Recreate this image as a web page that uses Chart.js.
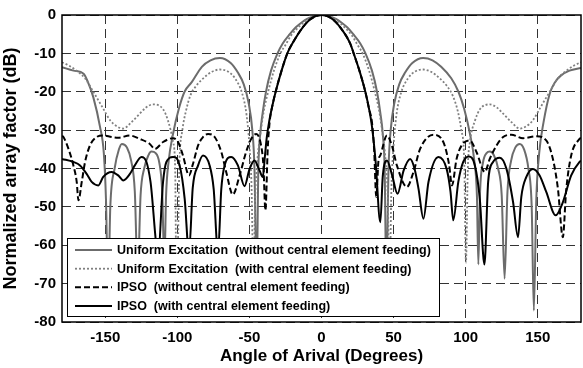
<!DOCTYPE html>
<html><head><meta charset="utf-8">
<style>html,body{margin:0;padding:0;background:#fff;}#wrap{width:583px;height:368px;}</style>
<script src="https://cdn.jsdelivr.net/npm/chart.js@4/dist/chart.umd.min.js"></script>
</head><body><div id="wrap"><canvas id="c" width="583" height="368"></canvas></div>
<script>
const seriesNames = [
  'Uniform Excitation  (without central element feeding)',
  'Uniform Excitation  (with central element feeding)',
  'IPSO  (without central element feeding)',
  'IPSO  (with central element feeding)'
];
const xTicks = [-150, -100, -50, 0, 50, 100, 150];
const yTicks = [-80, -70, -60, -50, -40, -30, -20, -10, 0];

// Uniform excitation, without central element feeding
const uniAngles = [-180,-172,-165,-162,-158.3,-153.6,-151,-149.5,-148,-146.5,-143.5,-140.5,-138.5,-135,-132,-129.5,-127.5,-125.5,-123,-120,-118,-115,-112.5,-110.5,-109,-107.8,-106,-103,-99,-95,-90,-83,-77,-70.5,-63,-58,-54,-50.5,-48,-46.5,-45,-43.8,-42.5,-41,-38.5,-35,-30.5,-27,-22,-17.8,-14,-10,-5,0,5,10,14,17.8,22,27,30.5,35,38.5,41,42.5,43.8,45,46.5,48,50.5,54,58,63,70.5,77,83,90,95,99,103,106,107.8,108.8,110,112,114.5,116.8,119.5,122.5,125,127,129,131.5,134.5,137.5,140.5,143.5,145.8,147.3,149,151,154,158.3,162,166,172,180];
const uniDb = [-13.6,-14.5,-15.3,-17.5,-21.4,-29.2,-36,-48,-72,-50,-40,-35,-33.6,-34.5,-38,-46,-68,-47,-40,-36.5,-35.6,-36,-38.5,-46,-65,-47,-38,-31,-24.5,-20,-17.5,-13.5,-11.8,-11.2,-12.5,-15,-18,-23,-30,-40,-70,-40,-31,-26,-20,-14.5,-10,-7.5,-5,-3.2,-2,-1,-0.3,0,-0.3,-1,-2,-3.2,-5,-7.5,-10,-14.5,-20,-26,-31,-40,-70,-40,-30,-23,-18,-15,-12.5,-11.2,-11.8,-13.5,-16.5,-20,-24.5,-31,-38,-47,-65,-46,-38.5,-36,-35.6,-36.5,-40,-47,-68.7,-46,-38,-34.5,-33.6,-35,-40,-50,-77,-48,-36,-28,-20.5,-17.5,-15.8,-14.5,-13.8];

// Uniform excitation, with central element feeding
const uniCenAngles = [-180,-175,-170,-164,-158.3,-152,-146.5,-142,-137.5,-132,-126,-122,-117,-110,-106.5,-103,-101.5,-100.8,-100,-98.5,-96.5,-94,-91,-87,-82,-76,-70.5,-65,-60,-55,-52,-50,-48.5,-47.2,-46,-44.5,-42,-40,-37,-33,-28.5,-25,-21,-16,-10,-5,0,5,10,16,21,25,28.5,33,37,40,42,44.5,46,47.2,48.5,50,52,55,60,65,70.5,76,82,87,91,94.5,97,99,100.2,101.5,103,106.5,110,116.8,122,126,132,137.5,142,146.5,152,158.3,164,170,175,180];
const uniCenDb = [-12.3,-13.2,-14.5,-16.5,-20,-24,-27.5,-29,-29.6,-28,-25.7,-24.2,-23.3,-24.5,-27.5,-33,-40,-64,-64.5,-38,-30,-25,-21,-18.5,-16.5,-14.8,-14.2,-14.7,-16.5,-20.5,-26,-34,-45,-70,-48,-38,-30,-25,-20,-14.5,-10,-7.8,-5.3,-3.2,-1.2,-0.3,0,-0.3,-1.2,-3.2,-5.3,-7.8,-10,-14.5,-20,-25,-30,-38,-48,-70,-45,-34,-26,-20.5,-16.5,-14.7,-14.2,-14.8,-16.5,-18.5,-21,-25,-30,-38,-64.5,-40,-33,-27.5,-24.5,-23.3,-24.2,-25.7,-28,-29.6,-29,-27.5,-24,-20,-16.5,-14.5,-13.2,-12.3];

// IPSO, without central element feeding
const ipsoAngles = [-180,-179,-175.5,-172.1,-169.8,-168.6,-166.3,-164,-160.6,-156,-151.4,-145.6,-141,-133,-126,-119.1,-115.6,-109.9,-103,-99.5,-96.1,-91.9,-89.3,-85.6,-82.2,-78.7,-74.1,-69.5,-66.1,-61.5,-56.8,-52.3,-48.8,-45.3,-41.9,-40.3,-38.9,-37.3,-36,-34,-31.8,-27.7,-23.7,-20,-13,-8,-4,0,4,8,13,20,22.3,26.3,30.4,33,35,36.5,38,39.5,40.8,45.4,48.8,52.3,59.2,63.8,68.4,77.6,84.5,88.5,90.5,93.7,97.2,102.9,107.5,113.3,116.7,121.4,126,131.7,139.8,149,155.9,160.5,164,167.4,169.7,173.2,179,180];
const ipsoDb = [-31.5,-31.8,-34.9,-39.2,-43.5,-48.3,-43.5,-38.3,-34,-31.8,-31.4,-31.8,-32,-31.4,-32.3,-33.6,-34.9,-33.1,-32.1,-33.1,-36.6,-41.8,-39,-34,-31.8,-31,-31.8,-35.7,-40.9,-46.8,-41.8,-35.7,-32.3,-31,-34,-39.2,-50.9,-34.9,-28,-23.5,-20,-14.5,-10,-7.3,-3.2,-1.2,-0.3,0,-0.3,-1.2,-3.2,-7.5,-10,-14.5,-20,-24.5,-28,-35,-47.4,-38,-36.6,-31.4,-34,-39.2,-44.8,-40.9,-34.9,-31.2,-33.1,-39,-44.4,-37.5,-34,-32.7,-35.7,-40.9,-37.5,-34,-31.8,-31.2,-32.1,-31.6,-32.7,-37.5,-45.3,-57.9,-45.8,-36.6,-32.3,-32];

// IPSO, with central element feeding
const ipsoCenAngles = [-180,-172.1,-167.5,-162.9,-159.4,-154.8,-151.4,-145.6,-141,-137.5,-132.9,-129.5,-124.9,-121.4,-118.6,-113.3,-109.9,-107.6,-103,-98.4,-94.9,-91.9,-89.3,-85.6,-82.2,-77.6,-74.8,-71.8,-69.5,-67.2,-62.6,-58,-53.4,-49.9,-46.5,-43,-40.7,-39.3,-38,-36.4,-34,-31.8,-27.7,-23.7,-20,-13,-8,-4,0,4,8,13,20,22.3,26.3,30.4,33,35,37.5,40.8,42.5,45.4,49,52.7,57,61.5,64.5,67.3,70.7,74.2,81.1,86.8,89.5,91.4,94.9,98.3,102.2,106.4,109.8,113,115.6,119,123.7,128.3,132.9,136.3,138.6,142.1,146.7,151.3,155.9,162.4,167.4,173.2,179,180];
const ipsoCenDb = [-37.5,-38.3,-39.2,-41.4,-43.5,-44.4,-42.2,-40.9,-41.8,-43.1,-41.4,-39.2,-37,-38.3,-43.5,-62,-43.5,-38.3,-37,-39.2,-47.9,-62,-45,-39.2,-36.6,-39.2,-45.3,-62,-45.3,-39.2,-37,-39.2,-44.6,-40.1,-37.9,-40.5,-42.2,-37,-32,-28,-23.5,-20,-14.5,-10,-7.3,-3.2,-1.2,-0.3,0,-0.3,-1.2,-3.2,-7.5,-10,-14.5,-20,-24.5,-29,-38,-54,-42,-37.9,-41.8,-46.6,-40.5,-37.5,-40,-45.3,-53.1,-43.5,-37,-40.1,-46.1,-53.5,-43.5,-38.3,-36.9,-39.2,-47.9,-65,-43.5,-38.3,-37.2,-40.1,-48.8,-57.9,-47.4,-42.2,-40.1,-41.8,-46.1,-52.2,-48.8,-41.8,-38.3,-38];

const pts = (a, d) => a.map((x, i) => ({x: x, y: d[i]}));
const styles = [
  {color: '#6c6c6c', width: 2, dash: []},
  {color: '#808080', width: 1.8, dash: [2, 2]},
  {color: '#000000', width: 2, dash: [6, 3]},
  {color: '#000000', width: 2, dash: []}
];
const seriesData = [pts(uniAngles, uniDb), pts(uniCenAngles, uniCenDb), pts(ipsoAngles, ipsoDb), pts(ipsoCenAngles, ipsoCenDb)];
const datasets = seriesData.map((d, i) => ({
  label: seriesNames[i], data: d,
  borderColor: styles[i].color, borderWidth: styles[i].width, borderDash: styles[i].dash,
  pointRadius: 0, fill: false, cubicInterpolationMode: 'monotone',
  order: 3 - i
}));

Chart.defaults.font.family = "'Liberation Sans', Arial, sans-serif";
Chart.defaults.color = '#000';

const framePlugin = {
  id: 'frameLegend',
  afterDraw(chart) {
    const ctx = chart.ctx, a = chart.chartArea;
    ctx.save();
    ctx.strokeStyle = '#000'; ctx.lineWidth = 1.5; ctx.setLineDash([]);
    ctx.strokeRect(a.left, a.top, a.right - a.left, a.bottom - a.top);
    // legend
    const lx = 67.5, ly = 238.5, lw = 372, lh = 78;
    ctx.fillStyle = '#fff'; ctx.fillRect(lx, ly, lw, lh);
    ctx.lineWidth = 1; ctx.strokeStyle = '#000'; ctx.strokeRect(lx, ly, lw, lh);
    ctx.font = "bold 12.5px 'Liberation Sans', Arial, sans-serif";
    ctx.textBaseline = 'middle'; ctx.textAlign = 'left'; ctx.fillStyle = '#000';
    const rows = [250, 268.7, 287.3, 306];
    seriesNames.forEach((n, i) => {
      const s = styles[i];
      ctx.beginPath(); ctx.strokeStyle = s.color; ctx.lineWidth = s.width; ctx.setLineDash(s.dash);
      ctx.moveTo(75, rows[i]); ctx.lineTo(112, rows[i]); ctx.stroke();
      ctx.setLineDash([]);
      ctx.fillText(n, 117, rows[i] + 0.5);
    });
    ctx.restore();
  }
};

new Chart(document.getElementById('c'), {
  type: 'line',
  data: {datasets: datasets},
  options: {
    responsive: false, animation: false, devicePixelRatio: 1,
    layout: {padding: {top: 14, right: 2, left: 0, bottom: 0}},
    plugins: {legend: {display: false}, tooltip: {enabled: false}},
    scales: {
      x: {
        type: 'linear', min: -180, max: 180,
        afterBuildTicks: s => { s.ticks = xTicks.map(v => ({value: v})); },
        afterFit: s => { s.height = 46; },
        grid: {color: '#333', lineWidth: 1, drawTicks: false},
        border: {display: false, dash: [9, 5]},
        ticks: {font: {size: 15, weight: 'bold'}, padding: 7, maxRotation: 0, color: '#000'},
        title: {display: true, text: 'Angle of Arival (Degrees)', font: {size: 17, weight: 'bold'}, padding: {top: 0, bottom: 1}, color: '#000'}
      },
      y: {
        type: 'linear', min: -80, max: 0,
        afterBuildTicks: s => { s.ticks = yTicks.map(v => ({value: v})); },
        afterFit: s => { s.width = 62; },
        grid: {color: '#333', lineWidth: 1, drawTicks: false},
        border: {display: false, dash: [9, 5]},
        ticks: {font: {size: 15, weight: 'bold'}, padding: 6, color: '#000'},
        title: {display: true, text: 'Normalized array factor (dB)', font: {size: 18, weight: 'bold'}, padding: {top: 0, bottom: 0}, color: '#000'}
      }
    }
  },
  plugins: [framePlugin]
});
</script></body></html>
